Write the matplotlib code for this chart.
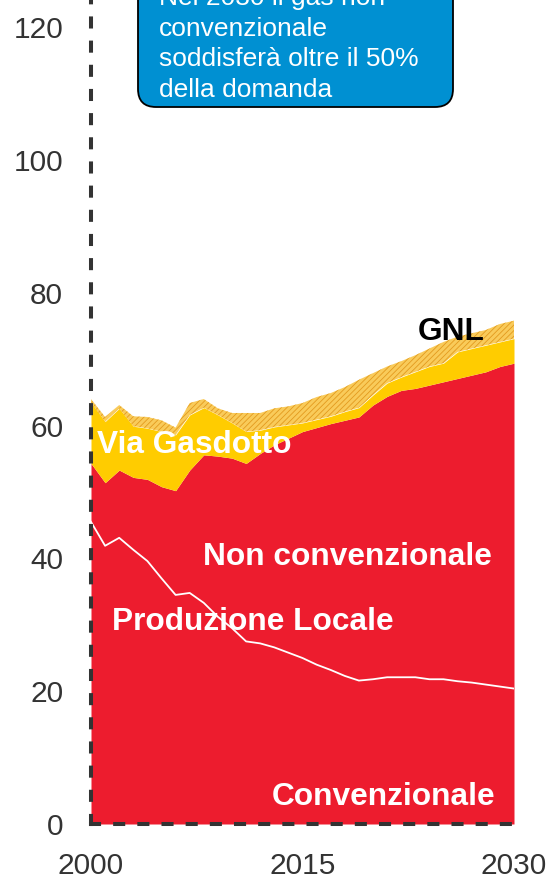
import matplotlib
matplotlib.use("Agg")
import matplotlib.pyplot as plt
import numpy as np
from matplotlib.patches import FancyBboxPatch

plt.rcParams['font.family'] = ['Liberation Sans', 'DejaVu Sans']

years = list(range(2000, 2031))
conventional = [45.5, 41.9, 43.1, 41.3, 39.6, 37.0, 34.5, 34.8, 33.3, 31.2, 29.5, 27.5, 27.2, 26.6, 25.8,
                25.0, 24.0, 23.2, 22.3, 21.6, 21.8, 22.1, 22.1, 22.1, 21.8, 21.8, 21.5, 21.3, 21.0, 20.7, 20.4]
unconventional = [8.8, 9.5, 10.2, 10.9, 12.3, 13.8, 15.7, 18.5, 22.3, 24.2, 25.6, 26.8, 28.6, 30.5, 32.3,
                  34.1, 35.7, 37.1, 38.5, 39.7, 41.3, 42.3, 43.2, 43.5, 44.3, 44.8, 45.6, 46.3, 47.1, 48.2, 49.0]
pipeline = [9.2, 9.2, 9.3, 7.7, 7.7, 8.3, 8.4, 8.3, 7.1, 6.2, 5.3, 4.8, 3.5, 2.7, 2.0,
            1.3, 1.2, 1.1, 1.3, 1.4, 1.5, 2.0, 2.0, 2.5, 2.8, 2.8, 4.0, 4.0, 4.0, 3.7, 3.7]
lng = [0.5, 0.7, 0.5, 1.5, 1.7, 1.7, 1.1, 1.8, 1.3, 1.0, 1.5, 2.8, 2.6, 2.8, 2.8,
       3.0, 3.4, 3.5, 3.7, 4.2, 3.3, 2.5, 2.4, 2.5, 2.7, 3.2, 2.3, 2.3, 2.3, 2.7, 2.7]

yticks = [0, 20, 40, 60, 80, 100, 120]
xticks = [2000, 2015, 2030]

RED = '#ED1C2E'
YELLOW = '#FFCC00'
DARK = '#333333'

fig = plt.figure(figsize=(5.53, 8.82), dpi=100)
ax = fig.add_axes([91/553, 58/882, (514-91)/553, 1 - 58/882])

x = np.array(years)
c = np.array(conventional)
dom = c + np.array(unconventional)
pip = dom + np.array(pipeline)
tot = pip + np.array(lng)

ax.fill_between(x, 0, dom, color=RED, lw=0)
ax.fill_between(x, dom, pip, color=YELLOW, lw=0)
plt.rcParams['hatch.color'] = '#E39A1E'
plt.rcParams['hatch.linewidth'] = 0.6
ax.fill_between(x, pip, tot, facecolor='#F9CB5A', hatch='//////', edgecolor='#E39A1E', lw=0)
ax.plot(x, c, color='white', lw=1.3)

ax.set_xlim(2000, 2030)
ax.set_ylim(0, 824/6.64)
ax.set_yticks(yticks)
ax.set_yticklabels([str(v) for v in yticks])
ax.set_xticks(xticks)
ax.set_xticklabels([str(v) for v in xticks])
ax.tick_params(length=0, labelsize=21.5, labelcolor=DARK)
ax.tick_params(axis='y', pad=20)
ax.tick_params(axis='x', pad=20)

for s in ['top', 'right']:
    ax.spines[s].set_visible(False)
for s in ['left', 'bottom']:
    ax.spines[s].set_color(DARK)
    ax.spines[s].set_linewidth(2.9)
    ax.spines[s].set_linestyle((0, (2, 4)))
    ax.spines[s].set_zorder(5)

tk = dict(color='white', fontsize=22.8, fontweight='bold', va='baseline')
ax.text(2007.94, 39.0, 'Non convenzionale', ha='left', **tk)
ax.text(2001.49, 29.2, 'Produzione Locale', ha='left', **tk)
ax.text(2028.65, 2.86, 'Convenzionale', ha='right', **tk)
ax.text(2000.43, 55.9, 'Via Gasdotto', ha='left', **tk)
ax.text(2023.19, 72.9, 'GNL', ha='left', va='baseline', color='black', fontsize=22.8, fontweight='bold')

# Callout box (partly cut off at the top)
box = FancyBboxPatch((138, 882 - 107), 453 - 138, 250,
                     boxstyle="round,pad=0,rounding_size=18",
                     transform=None, facecolor='#0090D2', edgecolor='black', lw=1.3, zorder=10)
fig.add_artist(box)
lines = ["Nel 2030 il gas non", "convenzionale", "soddisferà oltre il 50%", "della domanda"]
baselines = [5.2, 35.7, 66.2, 96.7]
for t, yy in zip(lines, baselines):
    fig.text(159/553, 1 - yy/882, t, color='white', fontsize=19, ha='left', va='baseline', zorder=11)

fig.savefig('out.png', dpi=100)
